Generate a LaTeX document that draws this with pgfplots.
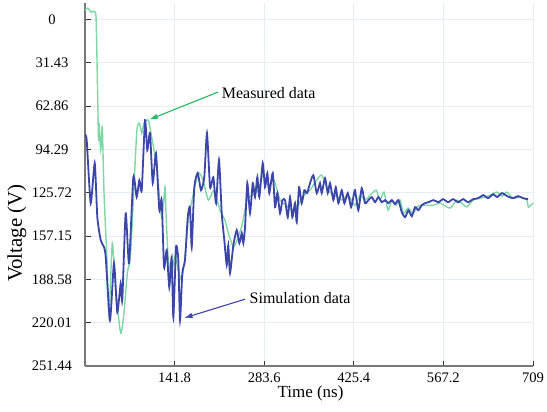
\documentclass[border=0pt]{standalone}
\usepackage{pgfplots}
\pgfplotsset{compat=1.18}
\usepackage{fontspec}
\setmainfont{Liberation Serif}
\usetikzlibrary{arrows.meta}
\definecolor{simblue}{RGB}{60,70,170}
\definecolor{measgreen}{RGB}{125,215,165}
\definecolor{arrowgreen}{RGB}{40,185,100}
\definecolor{gridc}{RGB}{230,238,243}
\definecolor{axc}{RGB}{120,120,120}
\begin{document}
\begin{tikzpicture}
\begin{axis}[
  scale only axis, width=322.56pt, height=261.4pt,
  xmin=0, xmax=709, ymin=-12, ymax=251.44, y dir=reverse,
  axis x line*=bottom, axis y line*=left,
  axis line style={draw=axc, line width=0.9pt, -},
  xtick={141.8,283.6,425.4,567.2,709},
  xticklabels={141.8,283.6,425.4,567.2,709},
  ytick={0,31.43,62.86,94.29,125.72,157.15,188.58,220.01,251.44},
  yticklabels={0,31.43,62.86,94.29,125.72,157.15,188.58,220.01,251.44},
  tick align=inside, major tick length=4pt,
  tick style={draw=black!80, line width=0.6pt},
  grid=major, major grid style={draw=gridc, line width=0.6pt},
  /pgf/number format/assume math mode=true,
  ticklabel style={font=\fontsize{10.5}{12}\selectfont},
  xticklabel style={anchor=center, yshift=-8.6pt},
  yticklabel style={anchor=center, xshift=-23.8pt},
  clip=false,
]
\addplot[measgreen, line width=1.0pt, smooth, tension=0.35] coordinates {
(0,-6.9)(4.7,-8.3)(9.5,-5.4)(14.2,-6.2)(17.4,-2.5)(19.0,29.4)(21.4,87.5)(22.2,75.1)(24.9,94.7)(27.4,78.0)(30.1,125.9)(35.3,179.7)(38.0,216.0)(43.2,162.2)(48.6,196.3)(56.5,227.6)(61.7,213.0)(67.0,184.0)(71.2,174.6)(74.0,155.0)(81.8,82.4)(86.0,75.1)(89.8,82.4)(93.4,75.1)(100.2,73.0)(105.6,85.3)(109.2,94.7)(113.5,107.1)(121.4,143.4)(126.6,121.6)(128.2,140.5)(131.9,174.6)(137.2,184.0)(142.5,171.0)(147.7,181.8)(153.1,189.1)(158.3,171.0)(163.5,145.6)(169.4,131.0)(179.4,111.4)(186.8,116.5)(195.2,131.0)(204.2,123.8)(213.7,138.3)(221.6,145.6)(226.8,155.0)(234.8,165.1)(240.6,160.1)(248.5,149.2)(256.4,131.0)(264.4,127.4)(273.9,123.8)(281.8,112.9)(289.7,120.2)(299.2,116.5)(308.7,131.0)(318.2,134.7)(327.7,138.3)(337.2,134.7)(346.7,127.4)(356.2,123.8)(365.7,117.0)(374.7,112.9)(384.7,123.8)(395.8,127.4)(406.8,131.0)(416.3,127.4)(427.4,134.7)(435.3,127.4)(443.2,131.0)(451.2,127.4)(460.7,123.8)(467.0,131.0)(473.3,125.2)(479.6,138.3)(486.0,131.0)(492.3,134.7)(498.6,131.0)(503.9,140.5)(511.3,136.8)(519.2,140.5)(527.1,135.4)(538.2,134.7)(550.9,134.7)(562.0,133.2)(577.8,136.8)(588.9,131.0)(604.2,135.9)(614.2,131.0)(625.3,129.6)(637.9,128.1)(651.7,125.2)(660.1,128.1)(667.5,125.2)(677.5,129.6)(688.6,128.8)(699.2,131.0)(701.8,136.1)(709,133.2)
};
\addplot[simblue, line width=1.3pt, smooth, tension=0.35] coordinates {
(0,83.8)(2.7,87.5)(9.0,133.2)(15.4,104.2)(19.5,143.4)(24.9,160.1)(30.1,165.1)(32.8,172.4)(39.6,218.1)(45.9,176.8)(51.1,212.3)(56.5,191.3)(59.0,203.6)(64.4,140.5)(69.7,176.8)(76.5,114.3)(81.8,128.8)(86.0,116.5)(89.8,123.8)(95.0,73.0)(98.6,94.7)(102.9,82.4)(107.2,118.7)(112.4,96.9)(117.6,138.3)(121.4,131.0)(125.1,179.7)(129.3,167.3)(133.4,194.2)(137.2,172.4)(139.8,216.0)(144.1,165.1)(147.7,174.6)(150.4,218.1)(154.0,184.0)(158.3,174.6)(162.6,143.4)(166.2,136.1)(168.9,165.1)(173.0,121.6)(178.4,111.4)(183.6,123.8)(188.8,114.3)(193.1,82.4)(197.9,121.6)(203.1,114.3)(207.4,133.2)(212.1,101.9)(216.4,140.5)(220.5,160.1)(224.3,178.2)(226.8,163.7)(229.5,184.0)(234.8,163.7)(240.2,152.8)(244.3,162.2)(248.1,155.0)(250.6,162.2)(253.3,150.6)(256.9,118.7)(261.2,140.5)(265.5,118.7)(269.1,128.8)(272.8,114.3)(275.9,128.8)(281.3,104.2)(284.9,121.6)(288.6,111.4)(291.7,125.9)(297.1,111.4)(300.8,136.1)(304.4,125.9)(308.7,140.5)(312.5,131.0)(316.6,131.0)(320.9,143.4)(324.5,128.8)(328.2,143.4)(332.4,133.2)(335.1,147.0)(338.8,121.6)(343.0,133.2)(347.2,123.8)(351.4,125.9)(356.2,118.7)(361.4,112.9)(366.8,125.9)(372.0,118.7)(374.7,125.9)(379.9,115.1)(384.2,125.9)(387.8,118.7)(393.1,131.0)(396.9,121.6)(401.0,133.2)(406.4,123.8)(410.5,133.2)(415.9,125.9)(421.1,136.1)(424.7,128.8)(427.4,123.8)(432.6,138.3)(438.0,122.3)(443.2,133.2)(448.5,131.0)(453.8,128.8)(459.1,132.5)(464.3,128.8)(469.7,132.5)(474.9,131.0)(480.1,133.2)(485.5,131.0)(490.7,133.9)(496.0,131.0)(501.3,139.7)(506.6,143.4)(511.8,138.3)(517.2,142.7)(522.4,136.1)(527.6,138.3)(533.0,134.7)(538.2,133.2)(543.4,132.5)(551.4,131.0)(559.3,132.5)(566.7,130.3)(574.6,132.5)(582.5,130.3)(590.5,132.5)(598.4,130.3)(606.3,132.5)(614.2,130.3)(622.1,129.6)(630.5,127.4)(638.0,129.6)(645.9,126.7)(652.2,128.8)(660.1,125.9)(668.0,128.1)(677.5,129.6)(685.4,128.1)(693.4,129.6)(701.3,130.3)
};
\draw[arrowgreen, line width=0.8pt, -{Latex[length=6pt,width=4pt]}] (axis cs:210.5,52.6) -- (axis cs:102,72.5);
\draw[simblue, line width=0.8pt, -{Latex[length=6pt,width=4pt]}] (axis cs:253.3,202.9) -- (axis cs:157,216.5);
\node[anchor=west, font=\fontsize{11.5}{13}\selectfont, inner sep=1pt] at (axis cs:214,53.4) {Measured data};
\node[anchor=west, font=\fontsize{11.5}{13}\selectfont, inner sep=1pt] at (axis cs:258,202.2) {Simulation data};
\node[font=\fontsize{12.2}{14}\selectfont] at (axis cs:357,251.44) [yshift=-19.4pt] {Time (ns)};
\node[xshift=-49pt, rotate=90, font=\fontsize{15}{17}\selectfont] at (axis cs:0,155) {Voltage (V)};
\end{axis}
\pgfresetboundingbox
\useasboundingbox ([xshift=-61.2pt,yshift=-32.4pt]current axis.south west) rectangle ([xshift=10.1pt,yshift=2.2pt]current axis.north east);
\end{tikzpicture}
\end{document}
